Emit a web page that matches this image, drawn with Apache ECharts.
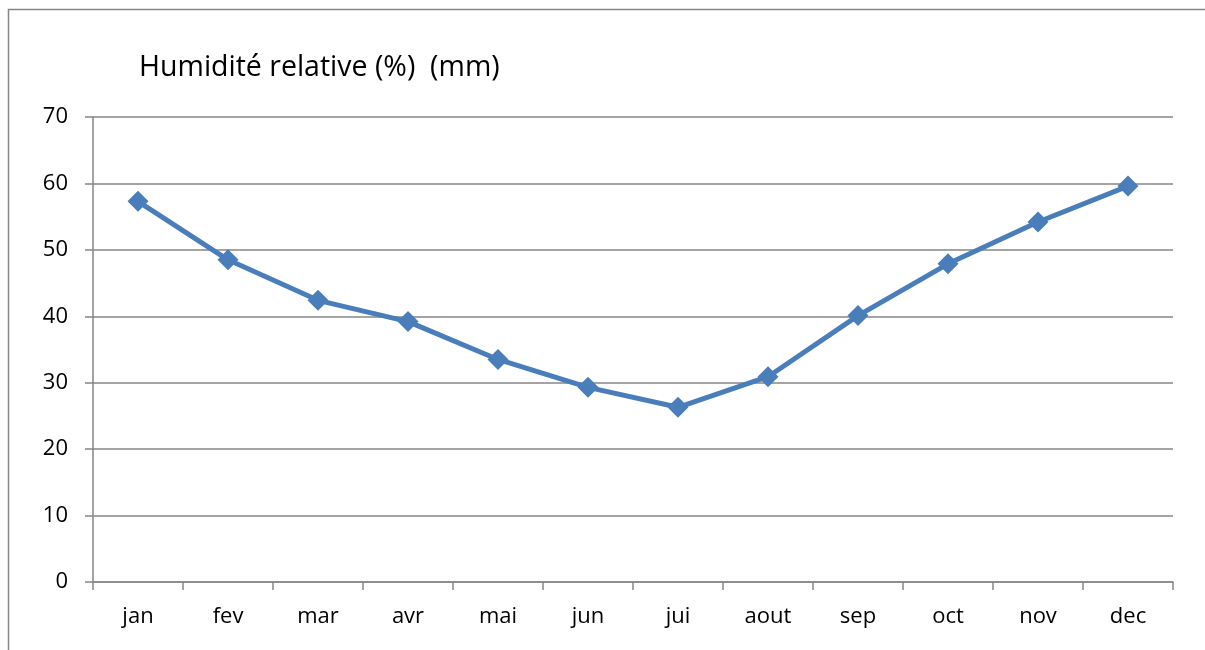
<!DOCTYPE html>
<html>
<head>
<meta charset="utf-8">
<script src="https://cdn.jsdelivr.net/npm/echarts@6/dist/echarts.min.js"></script>
<style>
  html, body { margin: 0; padding: 0; background: #fff; }
  #chart { width: 1205px; height: 650px; }
</style>
</head>
<body>
<div id="chart"></div>
<script>
// mois
const months = ["jan", "fev", "mar", "avr", "mai", "jun", "jui", "aout", "sep", "oct", "nov", "dec"];
// humidité relative (%)
const humidity = [57.3, 48.5, 42.4, 39.2, 33.5, 29.3, 26.3, 30.9, 40.1, 47.9, 54.2, 59.6];
// graduations de l'axe Y
const yMin = 0;
const yMax = 70;
const yStep = 10;

const gray = "#868686";
const font = "Open Sans";

const chart = echarts.init(document.getElementById("chart"));

chart.setOption({
  animation: false,
  backgroundColor: "#fff",
  textStyle: { fontFamily: font },
  title: {
    text: "Humidité relative (%)  (mm)",
    left: 134,
    top: 48,
    textStyle: { fontFamily: font, fontSize: 28.5, fontWeight: "normal", color: "#000" },
  },
  // cadre extérieur
  graphic: [
    {
      type: "polyline",
      shape: { points: [[8.5, 650], [8.5, 9.5], [1205, 9.5]] },
      style: { stroke: gray, lineWidth: 1.5, fill: null },
    },
  ],
  grid: { left: 93, right: 32, top: 117, bottom: 68 },
  xAxis: {
    type: "category",
    data: months,
    boundaryGap: true,
    axisLine: { lineStyle: { color: gray, width: 1.5 } },
    axisTick: { show: true, length: 8, lineStyle: { color: gray, width: 1.5 } },
    axisLabel: { color: "#000", fontSize: 22, margin: 24 },
  },
  yAxis: {
    type: "value",
    min: yMin,
    max: yMax,
    interval: yStep,
    axisLine: { show: true, lineStyle: { color: gray, width: 1.5 } },
    axisTick: { show: true, length: 8, lineStyle: { color: gray, width: 1.5 } },
    axisLabel: { color: "#000", fontSize: 22, margin: 25 },
    splitLine: { show: true, lineStyle: { color: gray, width: 1.5 } },
  },
  series: [
    {
      name: "Humidité relative",
      type: "line",
      data: humidity,
      symbol: "diamond",
      symbolSize: 21,
      lineStyle: { color: "#4A7EBB", width: 5 },
      itemStyle: { color: "#4A7EBB" },
    },
  ],
});
</script>
</body>
</html>
